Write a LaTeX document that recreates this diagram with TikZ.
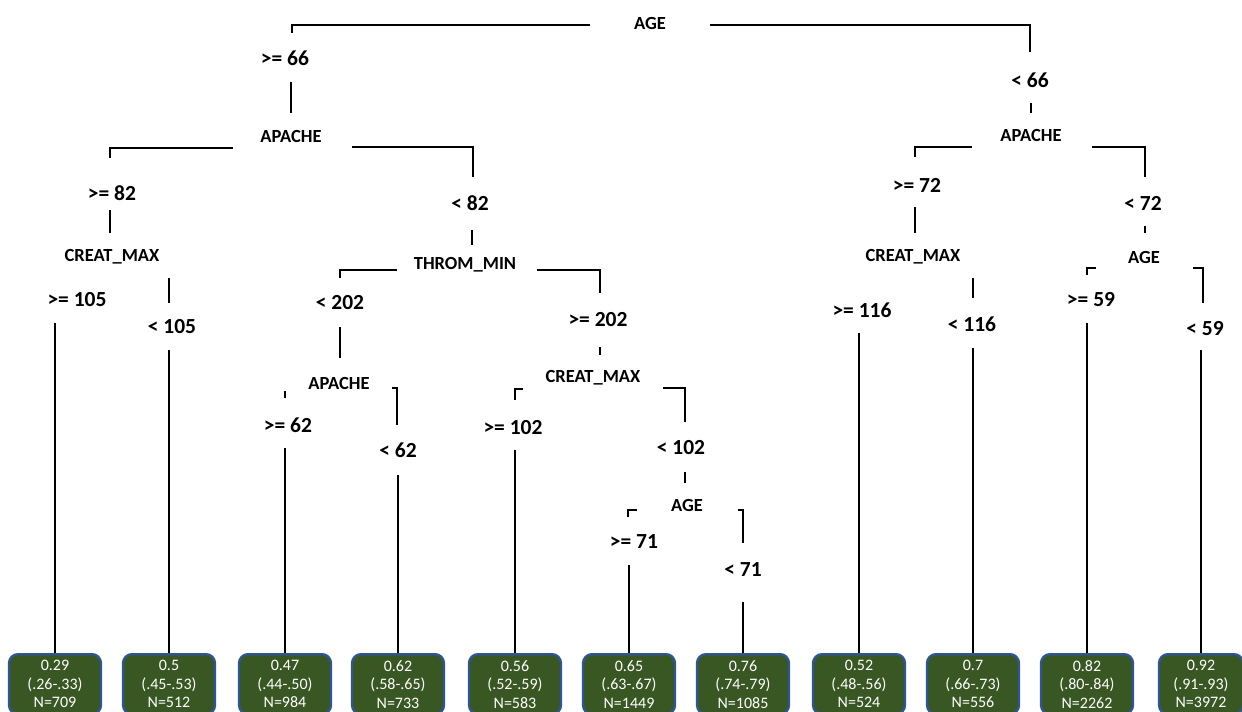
\documentclass[tikz,border=0pt]{standalone}
\usepackage{fontspec}
\setmainfont{Carlito}
\usetikzlibrary{calc}
\definecolor{c385723}{RGB}{56,87,35}
\definecolor{c2f5597}{RGB}{47,85,151}
\tikzset{every path/.style={line width=2.3pt,color=black}}

\begin{document}
\begin{tikzpicture}[x=1pt,y=-1pt]
\useasboundingbox (0,0) rectangle (1242,712);

% split variables
\begin{scope}[every node/.style={inner sep=0pt,font=\fontsize{18.5}{18.5}\selectfont\bfseries}]
\node (root) at (650,23) {AGE};
\node (apL) at (291,136) {APACHE};
\node (apR) at (1031,135) {APACHE};
\node (crA) at (112,257) {CREAT\_MAX};
\node (thr) at (465,265) {THROM\_MIN};
\node (crB) at (913,257) {CREAT\_MAX};
\node (ageR) at (1144,257) {AGE};
\node (apM) at (339,383) {APACHE};
\node (crC) at (593,378) {CREAT\_MAX};
\node (ageM) at (687,505) {AGE};
\end{scope}

% cut points
\begin{scope}[every node/.style={inner sep=0pt,font=\fontsize{21.5}{21.5}\selectfont\bfseries}]
\node (ge66) at (285,58) {>= 66};
\node (lt66) at (1030,80) {< 66};
\node (ge82) at (112,193) {>= 82};
\node (lt82) at (470,203) {< 82};
\node (ge105) at (77,300) {>= 105};
\node (lt105) at (172,327) {< 105};
\node (lt202) at (340,303) {< 202};
\node (ge202) at (598,320) {>= 202};
\node (ge62) at (288,425) {>= 62};
\node (lt62) at (398,450) {< 62};
\node (ge102) at (513,428) {>= 102};
\node (lt102) at (681,448) {< 102};
\node (ge71) at (634,542) {>= 71};
\node (lt71) at (743,570) {< 71};
\node (ge72) at (917,185) {>= 72};
\node (lt72) at (1143,203) {< 72};
\node (ge116) at (862,310) {>= 116};
\node (lt116) at (972,324) {< 116};
\node (ge59) at (1091,300) {>= 59};
\node (lt59) at (1205,329) {< 59};
\end{scope}

% leaves
\begin{scope}[every node/.style={anchor=north,fill=c385723,draw=c2f5597,rounded corners=9pt,
minimum width=92pt,minimum height=60pt,inner sep=0pt,align=center,text=white,
font=\fontsize{16}{18.5}\selectfont}]
\node (l1) at (55,653) {0.29\\(.26-.33)\\N=709};
\node (l2) at (169,653) {0.5\\(.45-.53)\\N=512};
\node (l3) at (285,653) {0.47\\(.44-.50)\\N=984};
\node (l4) at (398,653) {0.62\\(.58-.65)\\N=733};
\node (l5) at (515,653) {0.56\\(.52-.59)\\N=583};
\node (l6) at (629,653) {0.65\\(.63-.67)\\N=1449};
\node (l7) at (743,653) {0.76\\(.74-.79)\\N=1085};
\node (l8) at (859,653) {0.52\\(.48-.56)\\N=524};
\node (l9) at (973,653) {0.7\\(.66-.73)\\N=556};
\node (l10) at (1087,653) {0.82\\(.80-.84)\\N=2262};
\node[minimum width=84pt] (l11) at (1201,653) {0.92\\(.91-.93)\\N=3972};
\end{scope}

\draw ($(root)+(-60,2)$) -| ($(ge66)+(7,-25)$);
\draw ($(root)+(60,2)$) -| ($(lt66)+(0,-28)$);
\draw ($(ge66)+(6,24)$) -- ($(apL)+(0,-23)$);
\draw ($(lt66)+(1,23)$) -- ($(apR)+(0,-22)$);

\draw ($(apL)+(-58,12)$) -| ($(ge82)+(-2,-35)$);
\draw ($(apL)+(61,11)$) -| ($(lt82)+(3,-26)$);
\draw ($(ge82)+(-2,17)$) -- ($(crA)+(-2,-24)$);
\draw ($(crA)+(57,21)$) -- ($(lt105)+(-3,-24)$);
\draw ($(ge105)+(-22,23)$) -- (l1.north);
\draw ($(lt105)+(-3,23)$) -- (l2.north);

\draw ($(lt82)+(2,27)$) -- ($(thr)+(7,-20)$);
\draw ($(thr)+(-68,5)$) -| ($(lt202)+(0,-25)$);
\draw ($(thr)+(72,5)$) -| ($(ge202)+(2,-27)$);
\draw ($(lt202)+(0,24)$) -- ($(apM)+(1,-25)$);
\draw ($(ge202)+(2,27)$) -- ($(crC)+(7,-23)$);

\draw ($(apM)+(-54,8)$) -- ($(ge62)+(-3,-27)$);
\draw ($(apM)+(53,5)$) -| ($(lt62)+(-1,-25)$);
\draw ($(ge62)+(-3,23)$) -- (l3.north);
\draw ($(lt62)+(0,25)$) -- (l4.north);

\draw ($(crC)+(-70,11)$) -| ($(ge102)+(2,-28)$);
\draw ($(crC)+(70,10)$) -| ($(lt102)+(4,-26)$);
\draw ($(ge102)+(2,22)$) -- (l5.north);
\draw ($(lt102)+(4,24)$) -- ($(ageM)+(-2,-22)$);

\draw ($(ageM)+(-50,5)$) -| ($(ge71)+(-6,-25)$);
\draw ($(ageM)+(51,5)$) -| ($(lt71)+(0,-27)$);
\draw ($(ge71)+(-5,23)$) -- (l6.north);
\draw ($(lt71)+(0,32)$) -- (l7.north);

\draw ($(apR)+(-59,12)$) -| ($(ge72)+(-2,-28)$);
\draw ($(apR)+(61,12)$) -| ($(lt72)+(2,-26)$);
\draw ($(ge72)+(-2,22)$) -- ($(crB)+(2,-24)$);
\draw ($(lt72)+(2,23)$) -- ($(ageR)+(1,-24)$);

\draw ($(crB)+(60,21)$) -- ($(lt116)+(1,-26)$);
\draw ($(ge116)+(-3,23)$) -- (l8.north);
\draw ($(lt116)+(1,24)$) -- (l9.north);

\draw ($(ageR)+(-48,11)$) -| ($(ge59)+(-4,-25)$);
\draw ($(ageR)+(49,11)$) -| ($(lt59)+(-2,-26)$);
\draw ($(ge59)+(-4,23)$) -- (l10.north);
\draw ($(lt59)+(-4,21)$) -- (l11.north);

\end{tikzpicture}
\end{document}
